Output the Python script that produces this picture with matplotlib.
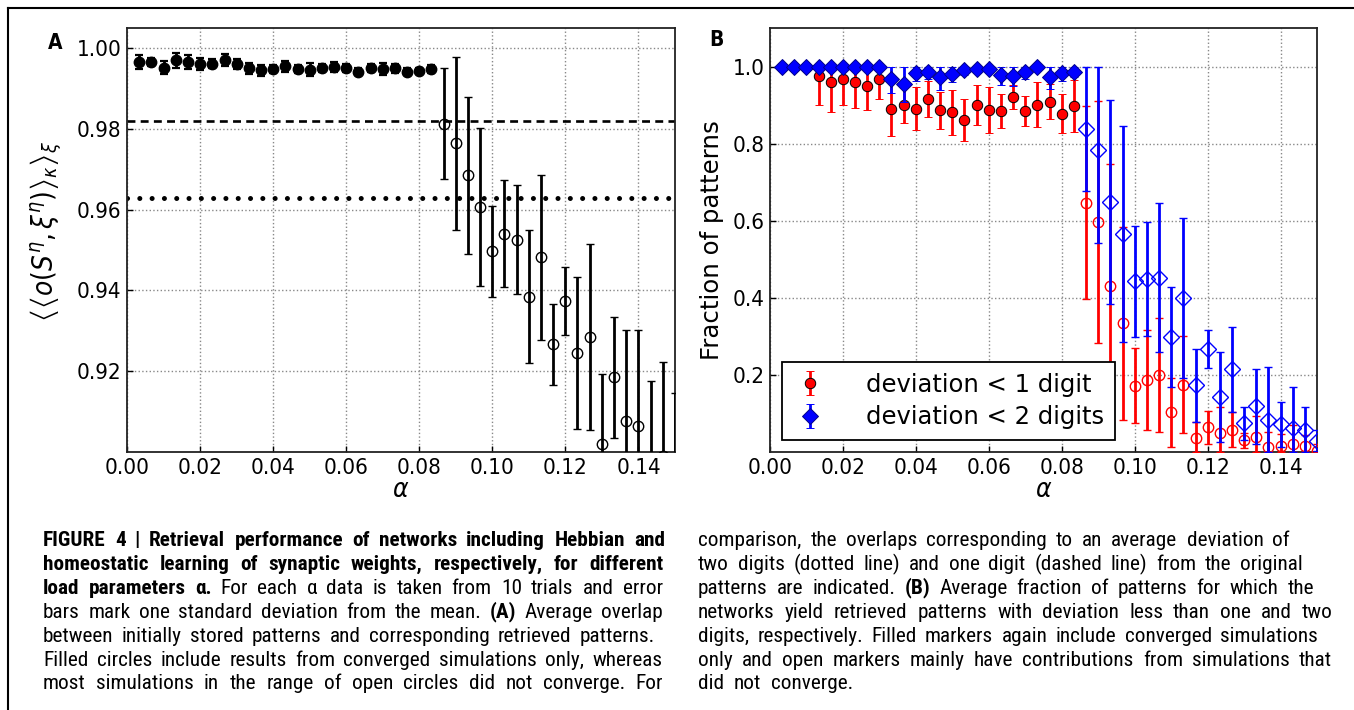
import numpy as np
import matplotlib
matplotlib.use("Agg")
import matplotlib.pyplot as plt
from matplotlib import font_manager
from matplotlib.lines import Line2D
from matplotlib.mathtext import MathTextParser

# ---------------- data ----------------
alpha_filled = [0.0033, 0.0067, 0.0100, 0.0133, 0.0167, 0.0200, 0.0233, 0.0267, 0.0300,
                0.0333, 0.0367, 0.0400, 0.0433, 0.0467, 0.0500, 0.0533, 0.0567, 0.0600,
                0.0633, 0.0667, 0.0700, 0.0733, 0.0767, 0.0800, 0.0833]
alpha_open = [0.0867, 0.0900, 0.0933, 0.0967, 0.1000, 0.1033, 0.1067, 0.1100, 0.1133,
              0.1167, 0.1200, 0.1233, 0.1267, 0.1300, 0.1333, 0.1367, 0.1400, 0.1433,
              0.1467, 0.1500]

# Panel A: mean overlap
overlap_filled = [0.9965, 0.9965, 0.9952, 0.9970, 0.9966, 0.9961, 0.9962, 0.9971, 0.9961,
                  0.9950, 0.9945, 0.9949, 0.9955, 0.9948, 0.9947, 0.9950, 0.9954, 0.9950,
                  0.9942, 0.9950, 0.9948, 0.9950, 0.9942, 0.9943, 0.9948]
overlap_filled_err = [0.0017, 0.0010, 0.0017, 0.0018, 0.0018, 0.0015, 0.0010, 0.0015, 0.0013,
                      0.0013, 0.0014, 0.0010, 0.0014, 0.0010, 0.0016, 0.0010, 0.0012, 0.0010,
                      0.0008, 0.0010, 0.0015, 0.0012, 0.0008, 0.0008, 0.0010]
overlap_open = [0.9813, 0.9764, 0.9685, 0.9607, 0.9497, 0.9541, 0.9526, 0.9385, 0.9482,
                0.9267, 0.9373, 0.9246, 0.9284, 0.9020, 0.9185, 0.9076, 0.9065, 0.8980,
                0.8990, 0.8960]
overlap_open_err = [0.0137, 0.0215, 0.0195, 0.0196, 0.0112, 0.0132, 0.0134, 0.0164, 0.0205,
                    0.0100, 0.0084, 0.0188, 0.0230, 0.0174, 0.0150, 0.0226, 0.0237, 0.0197,
                    0.0232, 0.0185]
one_digit_overlap = 0.982
two_digit_overlap = 0.963

# Panel B: fraction of patterns (errors = one std; bars are clipped to [0, 1])
dev1_filled = [1.0, 1.0, 1.0, 0.976, 0.959, 0.967, 0.959, 0.950, 0.967, 0.890, 0.899, 0.891,
               0.916, 0.886, 0.881, 0.862, 0.901, 0.888, 0.885, 0.921, 0.885, 0.901, 0.909,
               0.878, 0.897]
dev1_filled_err = [0.0, 0.0, 0.0, 0.075, 0.078, 0.066, 0.067, 0.062, 0.051, 0.069, 0.045, 0.055,
                   0.047, 0.047, 0.058, 0.054, 0.052, 0.060, 0.045, 0.030, 0.039, 0.058, 0.045,
                   0.051, 0.067]
dev1_open = [0.647, 0.596, 0.430, 0.334, 0.172, 0.187, 0.200, 0.103, 0.174, 0.037, 0.064, 0.050,
             0.058, 0.030, 0.038, 0.013, 0.016, 0.021, 0.015, 0.002]
dev1_open_err = [0.250, 0.314, 0.317, 0.250, 0.097, 0.130, 0.147, 0.090, 0.126, 0.040, 0.042,
                 0.067, 0.045, 0.020, 0.055, 0.040, 0.030, 0.050, 0.030, 0.020]
dev2_filled = [1.0, 1.0, 1.0, 1.0, 1.0, 1.0, 1.0, 1.0, 1.0, 0.968, 0.954, 0.983, 0.985, 0.972,
               0.981, 0.991, 0.993, 0.993, 0.978, 0.976, 0.985, 1.0, 0.972, 0.983, 0.987]
dev2_filled_err = [0.0, 0.0, 0.0, 0.0, 0.0, 0.0, 0.0, 0.0, 0.0, 0.036, 0.046, 0.020, 0.018, 0.032,
                   0.022, 0.012, 0.010, 0.010, 0.026, 0.026, 0.017, 0.0, 0.030, 0.020, 0.015]
dev2_open = [0.838, 0.784, 0.649, 0.565, 0.443, 0.448, 0.452, 0.299, 0.400, 0.173, 0.268, 0.143,
             0.215, 0.074, 0.119, 0.082, 0.072, 0.062, 0.056, 0.029]
dev2_open_err = [0.162, 0.243, 0.264, 0.280, 0.144, 0.148, 0.193, 0.130, 0.208, 0.095, 0.049,
                 0.117, 0.110, 0.042, 0.097, 0.139, 0.058, 0.107, 0.061, 0.027]

x_ticks = [0.00, 0.02, 0.04, 0.06, 0.08, 0.10, 0.12, 0.14]
x_ticklabels = ["0.00", "0.02", "0.04", "0.06", "0.08", "0.10", "0.12", "0.14"]
yA_ticks = [0.92, 0.94, 0.96, 0.98, 1.00]
yA_ticklabels = ["0.92", "0.94", "0.96", "0.98", "1.00"]
yB_ticks = [0.2, 0.4, 0.6, 0.8, 1.0]
yB_ticklabels = ["0.2", "0.4", "0.6", "0.8", "1.0"]
legend_labels = ["deviation < 1 digit", "deviation < 2 digits"]

caption_left = [
    [("FIGURE 4 | Retrieval performance of networks including Hebbian and", True)],
    [("homeostatic learning of synaptic weights, respectively, for different", True)],
    [("load parameters \u03b1.", True), ("For each \u03b1 data is taken from 10 trials and error", False)],
    [("bars mark one standard deviation from the mean.", False), ("(A)", True), ("Average overlap", False)],
    [("between initially stored patterns and corresponding retrieved patterns.", False)],
    [("Filled circles include results from converged simulations only, whereas", False)],
    [("most simulations in the range of open circles did not converge. For", False)],
]
caption_right = [
    [("comparison, the overlaps corresponding to an average deviation of", False)],
    [("two digits (dotted line) and one digit (dashed line) from the original", False)],
    [("patterns are indicated.", False), ("(B)", True), ("Average fraction of patterns for which the", False)],
    [("networks yield retrieved patterns with deviation less than one and two", False)],
    [("digits, respectively. Filled markers again include converged simulations", False)],
    [("only and open markers mainly have contributions from simulations that", False)],
    [("did not converge.", False)],
]

# ---------------- style ----------------
plt.rcParams["font.family"] = ["DejaVu Sans"]
plt.rcParams["font.stretch"] = "condensed"
plt.rcParams["mathtext.fontset"] = "dejavusans"

W, H = 1354, 710
fig = plt.figure(figsize=(W / 100, H / 100), dpi=100)
fig.patch.set_facecolor("white")

RED = "#ff0000"
BLUE = "#0000ff"
TICK_FS = 16


def style_axes(ax):
    ax.set_xlim(0, 0.15)
    ax.set_xticks(x_ticks)
    ax.set_xticklabels(x_ticklabels)
    ax.grid(True, linestyle=":", color="#888888", linewidth=1.0)
    ax.set_axisbelow(True)
    ax.tick_params(direction="in", length=4, width=1, labelsize=TICK_FS, pad=4)
    for s in ax.spines.values():
        s.set_linewidth(1.3)
        s.set_color("#222222")


def clipped_err(vals, errs):
    v = np.asarray(vals)
    e = np.asarray(errs)
    return np.vstack([np.minimum(e, v), np.minimum(e, 1.0 - v)])


# ---------------- panel A ----------------
axA = fig.add_axes([127 / W, 1 - 452 / H, 548 / W, 424 / H])
style_axes(axA)
axA.set_ylim(0.90, 1.005)
axA.set_yticks(yA_ticks)
axA.set_yticklabels(yA_ticklabels)
axA.axhline(one_digit_overlap, color="k", lw=1.9, linestyle=(0, (3, 2)), zorder=2)
axA.axhline(two_digit_overlap, color="k", lw=3.6, linestyle=(0, (0.01, 2.45)),
            dash_capstyle="round", zorder=2)
axA.errorbar(alpha_filled, overlap_filled, yerr=overlap_filled_err, fmt="o", color="k",
             ms=7.5, mfc="k", mec="k", elinewidth=2.0, capsize=2.8, capthick=1.6, zorder=4)
axA.errorbar(alpha_open, overlap_open, yerr=overlap_open_err, fmt="o", color="k",
             ms=7.5, mfc="none", mec="k", mew=1.0, elinewidth=2.0, capsize=2.8,
             capthick=1.6, zorder=4)

ylab_big = r"$\Bigl\langle\Bigl\langle o(S^{\eta},\xi^{\eta})\Bigr\rangle_{\kappa}\Bigr\rangle_{\xi}$"
ylab_safe = r"$\left\langle\left\langle o(S^{\eta},\xi^{\eta})\right\rangle_{\kappa}\right\rangle_{\xi}$"
try:
    MathTextParser("agg").parse(ylab_big, dpi=100)
    ylabA = ylab_big
except Exception:
    ylabA = ylab_safe
axA.set_ylabel(ylabA, fontsize=20)
axA.yaxis.set_label_coords((64 - 127) / 548, 0.52)
axA.set_xlabel(r"$\alpha$", fontsize=19)
axA.xaxis.set_label_coords(0.5, (452 - 477) / 424)

# ---------------- panel B ----------------
axB = fig.add_axes([770 / W, 1 - 452 / H, 547 / W, 424 / H])
style_axes(axB)
axB.set_ylim(0.0, 1.1)
axB.set_yticks(yB_ticks)
axB.set_yticklabels(yB_ticklabels)

eb1 = axB.errorbar(alpha_filled, dev1_filled, yerr=clipped_err(dev1_filled, dev1_filled_err),
                   fmt="o", color=RED, ms=7.5, mfc=RED, mec="k", mew=0.7, elinewidth=2.0,
                   capsize=2.8, capthick=1.4, zorder=3)
axB.errorbar(alpha_open, dev1_open, yerr=clipped_err(dev1_open, dev1_open_err),
             fmt="o", color=RED, ms=7.5, mfc="none", mec=RED, mew=1.0, elinewidth=2.0,
             capsize=2.8, capthick=1.4, zorder=3)
eb2 = axB.errorbar(alpha_filled, dev2_filled, yerr=clipped_err(dev2_filled, dev2_filled_err),
                   fmt="D", color=BLUE, ms=8, mfc=BLUE, mec="#00008b", mew=0.7,
                   elinewidth=2.0, capsize=2.8, capthick=1.4, zorder=4)
axB.errorbar(alpha_open, dev2_open, yerr=clipped_err(dev2_open, dev2_open_err),
             fmt="D", color=BLUE, ms=8, mfc="none", mec=BLUE, mew=1.0, elinewidth=2.0,
             capsize=2.8, capthick=1.4, zorder=4)
axB.set_ylabel("Fraction of patterns", fontsize=17.6, fontstretch="normal")
axB.yaxis.set_label_coords((724 - 770) / 547, 0.5)
axB.set_xlabel(r"$\alpha$", fontsize=19)
axB.xaxis.set_label_coords(0.5, (452 - 477) / 424)

leg = axB.legend([eb1, eb2], legend_labels, loc="lower left",
                 bbox_to_anchor=(0.0214, 0.028), borderaxespad=0,
                 prop={"size": 17.5, "stretch": "normal", "family": "DejaVu Sans"},
                 frameon=True, fancybox=False, framealpha=1, edgecolor="k",
                 handlelength=1.4, handletextpad=1.6, labelspacing=0.35, borderpad=0.45)
leg.get_frame().set_linewidth(1.3)

# panel letters
fig.text(55 / W, 1 - 43 / H, "A", fontsize=15, fontweight="bold", ha="center", va="center")
fig.text(716 / W, 1 - 40 / H, "B", fontsize=15, fontweight="bold", ha="center", va="center")

# figure frame (left and top)
fig.add_artist(Line2D([8 / W, 8 / W], [0, 1 - 8 / H], transform=fig.transFigure, color="k", lw=1.5))
fig.add_artist(Line2D([8 / W, 1], [1 - 8 / H, 1 - 8 / H], transform=fig.transFigure, color="k", lw=1.5))

# ---------------- caption (justified) ----------------
names = {f.name for f in font_manager.fontManager.ttflist}
if "Roboto Condensed" in names:
    cap_family, cap_size, cap_stretch = "Roboto Condensed", 15.3, "normal"
elif "Liberation Sans Narrow" in names:
    cap_family, cap_size, cap_stretch = "Liberation Sans Narrow", 15.0, "normal"
else:
    cap_family, cap_size, cap_stretch = "Liberation Sans", 13.8, "normal"

renderer = fig.canvas.get_renderer()
left_right_edges = [665, 663, 663, 663, 655, 662, 663]
right_right_edges = [1290, 1303, 1314, 1333, 1318, 1332, None]


def words_of(line):
    out = []
    for txt, bold in line:
        for w in txt.split():
            out.append((w, bold))
    return out


def build_line(line, size):
    objs = []
    for w, bold in words_of(line):
        t = fig.text(0, 0, w, fontsize=size, family=cap_family,
                     fontweight="bold" if bold else "normal", fontstretch=cap_stretch,
                     ha="left", va="baseline")
        objs.append(t)
    widths = [o.get_window_extent(renderer=renderer).width for o in objs]
    return objs, widths


def place_line(line, x0, x1, yb):
    size = cap_size
    while True:
        objs, widths = build_line(line, size)
        n = len(objs)
        if x1 is None:
            gap = 0.45 * size * 1.389
            break
        gap = (x1 - x0 - sum(widths)) / max(n - 1, 1)
        if gap >= 0.22 * size * 1.389 or size < 8:
            break
        for o in objs:
            o.remove()
        size -= 0.2
    x = x0
    for o, w in zip(objs, widths):
        o.set_position((x / W, 1 - yb / H))
        x += w + gap


for i, (line, x1) in enumerate(zip(caption_left, left_right_edges)):
    place_line(line, 43, x1, 546 + i * 23.9)
for i, (line, x1) in enumerate(zip(caption_right, right_right_edges)):
    place_line(line, 698, x1, 546 + i * 23.9)

fig.savefig("out.png", dpi=100, facecolor="white")
